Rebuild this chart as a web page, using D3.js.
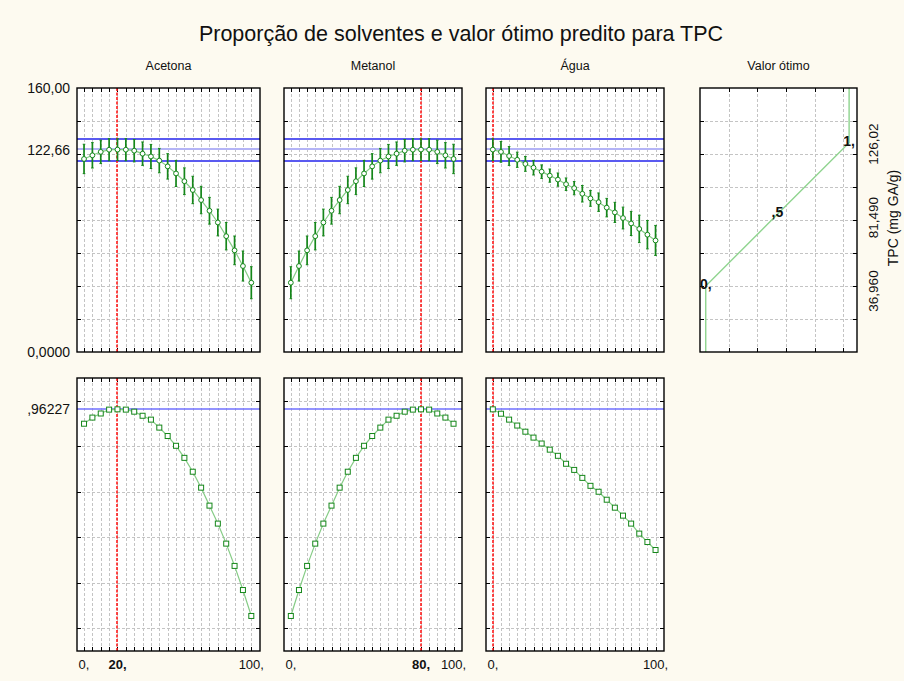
<!DOCTYPE html>
<html><head><meta charset="utf-8">
<script src="https://cdn.jsdelivr.net/npm/d3@7"></script>
<style>
html,body{margin:0;padding:0;background:#fdfaf0;}
svg{display:block;font-family:"Liberation Sans",Arial,sans-serif;}
</style></head>
<body>
<svg id="chart" width="904" height="681"></svg>
<script>
// ---------- data ----------
const components = ["Acetona", "Metanol", "Água"];
const proportions = [0,5,10,15,20,25,30,35,40,45,50,55,60,65,70,75,80,85,90,95,100];
const optimum = [20, 80, 0];

const acetonaTPC = [117.0,119.2,121.3,122.6,122.66,122.6,122.0,120.2,118.5,116.0,112.5,108.2,103.5,98.2,92.1,85.6,78.5,70.2,61.6,52.1,42.0];
const metanolTPC = [42.0,52.1,61.6,70.2,78.5,85.6,92.1,98.2,103.5,108.2,112.5,116.0,118.5,120.2,122.0,122.6,122.66,122.6,121.3,119.2,117.0];
const aguaTPC    = [122.66,121.3,118.8,116.5,114.0,111.7,109.3,106.9,104.5,101.7,99.3,95.9,93.1,90.8,87.5,84.6,81.2,77.9,74.6,71.1,67.6];

const acetonaErr = [8.9,7.7,7.1,6.7,6.6,6.7,6.8,7.1,7.3,7.4,7.7,7.9,8.1,8.3,8.3,8.1,8.1,8.3,8.7,9.1,9.7];
const metanolErr = [9.7,9.1,8.7,8.3,8.1,8.1,8.3,8.3,8.1,7.9,7.7,7.4,7.3,7.1,6.8,6.7,6.6,6.7,7.1,7.7,8.9];
const aguaErr    = [6.6,6.3,5.7,4.6,4.5,4.4,4.1,4.0,4.0,3.8,4.0,5.0,4.8,5.6,5.6,6.1,6.6,7.3,8.3,8.6,9.1];

const acetonaDes = [0.899,0.926,0.944,0.961,0.96227,0.961,0.952,0.934,0.917,0.882,0.845,0.802,0.749,0.688,0.618,0.539,0.460,0.372,0.274,0.168,0.054];
const metanolDes = [0.054,0.168,0.274,0.372,0.460,0.539,0.618,0.688,0.749,0.802,0.845,0.882,0.917,0.934,0.952,0.961,0.96227,0.961,0.944,0.926,0.899];
const aguaDes    = [0.96227,0.943,0.917,0.891,0.864,0.838,0.812,0.785,0.758,0.723,0.696,0.661,0.626,0.600,0.565,0.530,0.495,0.460,0.416,0.379,0.344];

const tpcPredicted = 122.66;
const tpcCI = [115.9, 129.1];
const desPredicted = 0.96227;

const tpcGrid = [20,40,60,80,100,120,140];
const desGrid = [0,0.2,0.4,0.6,0.8,1.0];
const tpcLabels = [[160,"160,00"],[122.66,"122,66"],[0,"0,0000"]];
const desLabels = [[0.96227,",96227"]];
const xLabels = [
  [[0,"0,",false],[20,"20,",true],[100,"100,",false]],
  [[0,"0,",false],[80,"80,",true],[100,"100,",false]],
  [[0,"0,",false],[100,"100,",false]]
];

// desirability function (Valor ótimo)
const desFnX = [0, 0, 0.5, 1, 1];
const desFnY = [-20, 36.96, 81.49, 126.02, 200];
const desFnLabels = [[0,36.96,"0,"],[0.5,81.49,",5"],[1,126.02,"1,"]];
const desFnGridX = [0.16,0.36,0.56,0.76,0.96];
const desFnAxisLabels = [[126.02,"126,02"],[81.49,"81,490"],[36.96,"36,960"]];

const seriesTPC = [acetonaTPC, metanolTPC, aguaTPC];
const seriesErr = [acetonaErr, metanolErr, aguaErr];
const seriesDes = [acetonaDes, metanolDes, aguaDes];

// ---------- layout ----------
const svg = d3.select("#chart");
const panelX = [[77,260],[284,462],[486,664]];
const valorX = [700,857];
const topY = [352,88], botY = [651,378];

const yT = d3.scaleLinear().domain([0,160]).range(topY);
const yD = d3.scaleLinear().domain([-0.1,1.1]).range(botY);
const px = v => Math.round(v) + 0.5;

const green = "#15871a", lightGreen = "#86cc86", gridCol = "#c4c4c4";

svg.append("text").attr("x",461).attr("y",41).attr("text-anchor","middle")
  .attr("font-size",21.5).attr("fill","#111").text("Proporção de solventes e valor ótimo predito para TPC");

function frame(g, x0, x1, y0, y1){
  g.append("rect").attr("x",x0).attr("y",y1).attr("width",x1-x0).attr("height",y0-y1)
    .attr("fill","#fff");
}
function border(g, x0, x1, y0, y1){
  g.append("rect").attr("x",x0).attr("y",y1).attr("width",x1-x0).attr("height",y0-y1)
    .attr("fill","none").attr("stroke","#000").attr("stroke-width",1.4);
}
function hGrid(g, x0, x1, ys){
  ys.forEach(y0=>{
    const y = px(y0);
    g.append("line").attr("x1",x0).attr("x2",x1).attr("y1",y).attr("y2",y)
      .attr("stroke",gridCol).attr("stroke-dasharray","3,2");
    g.append("line").attr("x1",x0).attr("x2",x0+4).attr("y1",y).attr("y2",y).attr("stroke","#000");
    g.append("line").attr("x1",x1-4).attr("x2",x1).attr("y1",y).attr("y2",y).attr("stroke","#000");
  });
}
function vGrid(g, xs, y0, y1){
  xs.forEach(x0=>{
    const x = px(x0);
    g.append("line").attr("x1",x).attr("x2",x).attr("y1",y0).attr("y2",y1)
      .attr("stroke",gridCol).attr("stroke-dasharray","3,2");
    g.append("line").attr("x1",x).attr("x2",x).attr("y1",y1).attr("y2",y1+4).attr("stroke","#000");
    g.append("line").attr("x1",x).attr("x2",x).attr("y1",y0-4).attr("y2",y0).attr("stroke","#000");
  });
}

components.forEach((name,i)=>{
  const [x0,x1] = panelX[i];
  const x = d3.scaleLinear().domain([-4.2,105.2]).range([x0,x1]);
  const g = svg.append("g");
  const xs = proportions.map(p=>x(p));

  g.append("text").attr("x",(x0+x1)/2).attr("y",70).attr("text-anchor","middle")
    .attr("font-size",12.5).attr("fill","#111").text(name);

  // ---- top panel (TPC) ----
  frame(g,x0,x1,topY[0],topY[1]);
  vGrid(g,xs,topY[0],topY[1]);
  hGrid(g,x0,x1,tpcGrid.map(yT));
  tpcCI.forEach(v=>g.append("line").attr("x1",x0).attr("x2",x1).attr("y1",Math.round(yT(v))).attr("y2",Math.round(yT(v)))
    .attr("stroke","#5a5af0").attr("stroke-width",2));
  g.append("line").attr("x1",x0).attr("x2",x1).attr("y1",Math.round(yT(tpcPredicted))-1).attr("y2",Math.round(yT(tpcPredicted))-1)
    .attr("stroke","#b4b4f6").attr("stroke-width",2);
  const xo = Math.round(x(optimum[i]));
  g.append("line").attr("x1",xo).attr("x2",xo).attr("y1",topY[0]).attr("y2",topY[1])
    .attr("stroke","#ff1a1a").attr("stroke-width",1.6).attr("stroke-dasharray","3,1.5");
  const tpc = seriesTPC[i], err = seriesErr[i];
  g.append("path").datum(proportions)
    .attr("d",d3.line().x(p=>x(p)).y((p,k)=>yT(tpc[k])))
    .attr("fill","none").attr("stroke",lightGreen).attr("stroke-width",1.2);
  proportions.forEach((p,k)=>{
    const cx = x(p);
    g.append("line").attr("x1",cx).attr("x2",cx).attr("y1",yT(tpc[k]-err[k])).attr("y2",yT(tpc[k]+err[k]))
      .attr("stroke",green).attr("stroke-width",1.7);
    [tpc[k]-err[k], tpc[k]+err[k]].forEach(v=>g.append("line").attr("x1",cx-1.3).attr("x2",cx+1.3)
      .attr("y1",yT(v)).attr("y2",yT(v)).attr("stroke",green).attr("stroke-width",1));
    g.append("circle").attr("cx",cx).attr("cy",yT(tpc[k])).attr("r",2.4)
      .attr("fill","#fff").attr("stroke",green).attr("stroke-width",1);
  });
  border(g,x0,x1,topY[0],topY[1]);

  // ---- bottom panel (desirability) ----
  frame(g,x0,x1,botY[0],botY[1]);
  vGrid(g,xs,botY[0],botY[1]);
  hGrid(g,x0,x1,desGrid.map(yD));
  const yp = Math.round(yD(desPredicted));
  g.append("line").attr("x1",x0).attr("x2",x1).attr("y1",yp).attr("y2",yp)
    .attr("stroke","#7070ff").attr("stroke-width",1.4);
  g.append("line").attr("x1",xo).attr("x2",xo).attr("y1",botY[0]).attr("y2",botY[1])
    .attr("stroke","#ff1a1a").attr("stroke-width",1.6).attr("stroke-dasharray","3,1.5");
  const des = seriesDes[i];
  g.append("path").datum(proportions)
    .attr("d",d3.line().x(p=>x(p)).y((p,k)=>yD(des[k])))
    .attr("fill","none").attr("stroke",lightGreen).attr("stroke-width",1.2);
  proportions.forEach((p,k)=>{
    g.append("rect").attr("x",x(p)-2.5).attr("y",yD(des[k])-2.5).attr("width",5).attr("height",5)
      .attr("fill","#fff").attr("stroke",green).attr("stroke-width",1);
  });
  border(g,x0,x1,botY[0],botY[1]);

  xLabels[i].forEach(([v,t,b])=>{
    g.append("text").attr("x",x(v)).attr("y",669).attr("text-anchor","middle")
      .attr("font-size",13).attr("font-weight",b?"bold":"normal").attr("fill","#111").text(t);
  });
});

// left axis labels
tpcLabels.forEach(([v,t])=>svg.append("text").attr("x",70).attr("y",yT(v)+5).attr("text-anchor","end")
  .attr("font-size",14).attr("fill","#111").text(t));
desLabels.forEach(([v,t])=>svg.append("text").attr("x",70).attr("y",yD(v)+5).attr("text-anchor","end")
  .attr("font-size",14).attr("fill","#111").text(t));

// ---- Valor ótimo panel ----
{
  const [x0,x1] = valorX;
  const g = svg.append("g");
  const xv = d3.scaleLinear().domain([-0.04,1.055]).range([x0,x1]);
  const yv = d3.scaleLinear().domain([0,160]).range([345.5,88]);
  g.append("text").attr("x",(x0+x1)/2).attr("y",70).attr("text-anchor","middle")
    .attr("font-size",12.5).attr("fill","#111").text("Valor ótimo");
  frame(g,x0,x1,topY[0],topY[1]);
  vGrid(g,desFnGridX.map(xv),topY[0],topY[1]);
  hGrid(g,x0,x1,tpcGrid.map(yT));
  svg.append("clipPath").attr("id","vclip").append("rect")
    .attr("x",x0).attr("y",topY[1]).attr("width",x1-x0).attr("height",topY[0]-topY[1]);
  g.append("path").datum(desFnX).attr("clip-path","url(#vclip)")
    .attr("d",d3.line().x(d=>xv(d)).y((d,k)=>yv(desFnY[k])))
    .attr("fill","none").attr("stroke","#8fd48f").attr("stroke-width",1.4);
  border(g,x0,x1,topY[0],topY[1]);
  desFnLabels.forEach(([dx,dy,t])=>{
    g.append("text").attr("x",xv(dx)).attr("y",yv(dy)+3).attr("text-anchor","middle")
      .attr("font-size",14).attr("font-weight","bold").attr("fill","#111").text(t);
  });
  desFnAxisLabels.forEach(([v,t])=>{
    g.append("text").attr("transform",`translate(878,${yT(v)}) rotate(-90)`).attr("text-anchor","middle")
      .attr("font-size",13.5).attr("fill","#111").text(t);
  });
  g.append("text").attr("transform",`translate(898,218) rotate(-90)`).attr("text-anchor","middle")
    .attr("font-size",14).attr("fill","#111").text("TPC (mg GA/g)");
}
</script>
</body></html>
